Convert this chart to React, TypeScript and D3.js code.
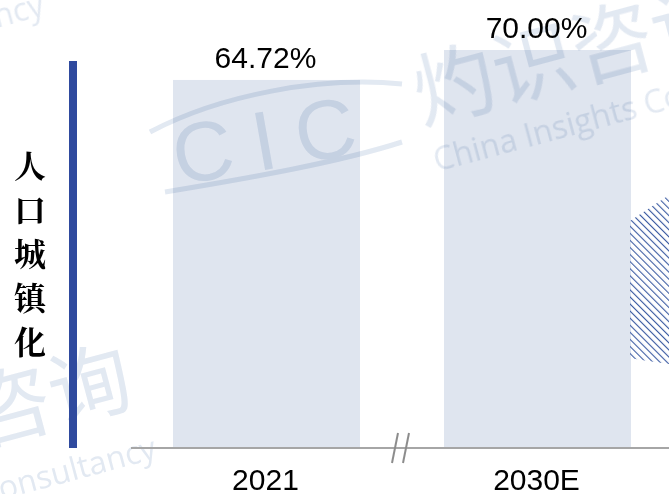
import React from 'react';
import * as d3 from 'd3';

const categories = ['2021', '2030E'];
const values = [64.72, 70.0];
const valueLabels = ['64.72%', '70.00%'];
const sideTitle = ['人', '口', '城', '镇', '化'];

const W = 669;
const H = 494;

const App = () => {
  // x scale for the two bars
  const x = d3.scaleBand().domain(categories).range([173, 631]).paddingInner(0.31).paddingOuter(0);

  // y scale, linear from zero
  const y = d3.scaleLinear().domain([0, 70]).range([447, 50]);

  const wm = '#d6dfec';
  const latin = 'Arial, "Liberation Sans", sans-serif';
  const cjk = '"Noto Serif CJK SC", "Noto Sans CJK SC", serif';
  const wmCjk = '"Noto Sans CJK SC", sans-serif';
  const wmLatin = '"Open Sans", sans-serif';

  return (
    <svg width={W} height={H} style={{ position: 'absolute', left: 0, top: 0 }} fontFamily={latin}>
      <defs>
        <pattern id="hatch" width="5" height="5" patternUnits="userSpaceOnUse" patternTransform="rotate(-45)">
          <line x1="0" y1="0" x2="0" y2="5" stroke="#3b5ba2" strokeWidth="2.2" />
        </pattern>
      </defs>
      <rect width={W} height={H} fill="#fff" />

      {/* bars */}
      {categories.map((c, i) => (
        <rect key={c} x={x(c)} y={y(values[i])} width={x.bandwidth()} height={y(0) - y(values[i])} fill="#dfe5ef" />
      ))}

      {/* watermark */}
      <g fill={wm} opacity={0.7} style={{ mixBlendMode: 'multiply' }}>
        {/* CIC logo */}
        <path d="M150,132 C220,95 320,76 402,84" fill="none" stroke={wm} strokeWidth="5" />
        <path d="M165,192 C250,178 340,162 402,142" fill="none" stroke={wm} strokeWidth="5" />
        <text x="274" y="168" textAnchor="middle" fontSize="84" fontFamily={latin} letterSpacing="20" transform="rotate(-10,274,140)">CIC</text>
        {/* brand text, top right */}
        <g transform="translate(422,124) rotate(-15)">
          <text x="0" y="0" fontSize="82" fontFamily={wmCjk}>灼识咨询</text>
          <text x="2" y="50" fontSize="32" fontFamily={wmLatin}>China Insights Consultancy</text>
        </g>
        {/* brand text, bottom left */}
        <g transform="translate(-180,488) rotate(-15)">
          <text x="0" y="0" fontSize="82" fontFamily={wmCjk}>灼识咨询</text>
        </g>
        <g transform="translate(-18,505) rotate(-15)">
          <text x="0" y="0" fontSize="32" fontFamily={wmLatin}>Consultancy</text>
        </g>
        {/* fragment, top left */}
        <g transform="translate(-130,62) rotate(-15)">
          <text x="0" y="0" fontSize="32" fontFamily={wmLatin}>Consultancy</text>
        </g>
      </g>

      {/* value labels */}
      {categories.map((c, i) => (
        <text key={c} x={x(c)! + x.bandwidth() / 2 - 1} y={y(values[i]) - 12} textAnchor="middle" fontSize="30" fill="#000">
          {valueLabels[i]}
        </text>
      ))}

      {/* category labels */}
      {categories.map((c) => (
        <text key={c} x={x(c)! + x.bandwidth() / 2 - 1} y={490} textAnchor="middle" fontSize="30" fill="#000">
          {c}
        </text>
      ))}

      {/* axis line with break */}
      <line x1={131} x2={W} y1={448} y2={448} stroke="#a6a6a6" strokeWidth="2" />
      <line x1={392} y1={463} x2={398} y2={433} stroke="#8c8c8c" strokeWidth="2" />
      <line x1={403} y1={463} x2={409} y2={433} stroke="#8c8c8c" strokeWidth="2" />

      {/* hatched shape at right edge */}
      <path d="M630,221 L669,195 L669,364 C655,362 640,360 630,358 Z" fill="url(#hatch)" />

      {/* left accent bar */}
      <rect x={69} y={61} width={8} height={387} fill="#2f4a9e" />

      {/* vertical title */}
      {sideTitle.map((ch, i) => (
        <text key={ch} x={30} y={178 + i * 44} textAnchor="middle" fontSize="32" fontWeight="bold" fontFamily={cjk} fill="#000">
          {ch}
        </text>
      ))}
    </svg>
  );
};

export default App;
